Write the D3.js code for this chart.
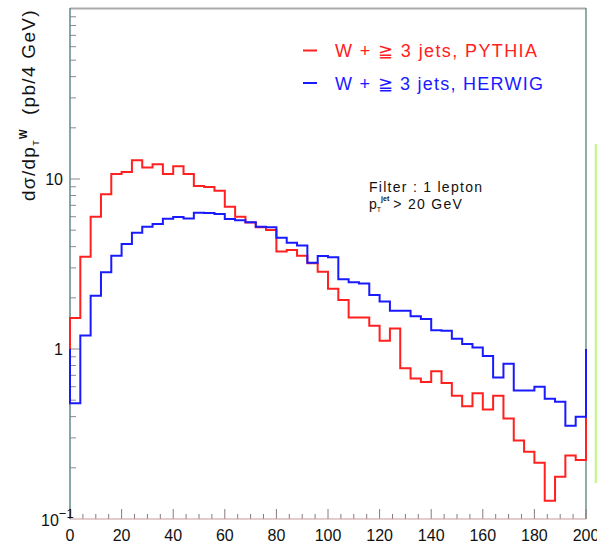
<!DOCTYPE html>
<html>
<head>
<meta charset="utf-8">
<script src="https://cdn.jsdelivr.net/npm/d3@7"></script>
<style>
  body { margin: 0; background: #fff; }
  text { font-family: "Liberation Sans", Arial, sans-serif; }
</style>
</head>
<body>
<div id="chart-area"></div>
<script>
// bin edges 0..200 step 4 GeV, 50 bins
var binWidth = 4;
var pythia = [1.52, 3.49, 6.0, 8.13, 10.7, 11.0, 12.9, 11.7, 12.2, 10.7,
              11.9, 10.7, 9.1, 8.97, 8.53, 6.87, 6.0, 5.55, 5.2, 5.01,
              3.74, 3.82, 3.54, 3.19, 2.85, 2.26, 1.94, 1.53, 1.53, 1.37,
              1.12, 1.32, 0.77, 0.67, 0.64, 0.74, 0.63, 0.53, 0.46, 0.55,
              0.44, 0.53, 0.39, 0.29, 0.249, 0.214, 0.128, 0.177, 0.236, 0.222];
var herwig = [0.48, 1.2, 2.06, 2.83, 3.54, 4.15, 4.83, 5.24, 5.44, 5.84,
              5.97, 5.86, 6.34, 6.3, 6.22, 5.82, 5.71, 5.56, 5.24, 5.2,
              4.52, 4.22, 4.06, 3.22, 3.52, 3.46, 2.57, 2.47, 2.43, 2.08,
              1.90, 1.68, 1.68, 1.56, 1.50, 1.29, 1.28, 1.15, 1.07, 1.02,
              0.91, 0.68, 0.82, 0.57, 0.57, 0.60, 0.51, 0.49, 0.354, 0.40];
var xTicks = [0, 20, 40, 60, 80, 100, 120, 140, 160, 180, 200];
var seriesNames = ["W + \u2267 3 jets, PYTHIA", "W + \u2267 3 jets, HERWIG"];
var seriesColors = ["#ff2020", "#1a1aff"];

var svg = d3.select("#chart-area").append("svg")
    .attr("width", 597)
    .attr("height", 544);

var x = d3.scaleLinear().domain([0, 200]).range([70, 586]);
var y = d3.scaleLog().domain([0.1, 100]).range([519, 9]);

// frame
svg.append("line").attr("x1", 70).attr("x2", 586).attr("y1", 8.5).attr("y2", 8.5)
    .attr("stroke", "#aaaaaa").attr("stroke-width", 2);
svg.append("line").attr("x1", 586).attr("x2", 586).attr("y1", 8).attr("y2", 519)
    .attr("stroke", "#6f8f8c").attr("stroke-width", 1.5);

// light green stray line on right edge
svg.append("line").attr("x1", 596).attr("x2", 596).attr("y1", 144).attr("y2", 483)
    .attr("stroke", "#c8f58a").attr("stroke-width", 2.5);

// y ticks (log, inward)
var yMinor = [];
[0.1, 1, 10].forEach(function(dec) {
    for (var k = 2; k <= 9; k++) yMinor.push(dec * k);
});
svg.selectAll(".ymin").data(yMinor).enter().append("line")
    .attr("x1", 70).attr("x2", 76)
    .attr("y1", function(d) { return y(d); })
    .attr("y2", function(d) { return y(d); })
    .attr("stroke", "#8a8a8a");
svg.selectAll(".ymaj").data([1, 10]).enter().append("line")
    .attr("x1", 70).attr("x2", 80)
    .attr("y1", function(d) { return y(d); })
    .attr("y2", function(d) { return y(d); })
    .attr("stroke", "#8a8a8a");

// x ticks (upward)
var xMinor = d3.range(0, 201, 5).filter(function(d) { return d % 20 != 0; });
svg.selectAll(".xmin").data(xMinor).enter().append("line")
    .attr("x1", function(d) { return x(d); })
    .attr("x2", function(d) { return x(d); })
    .attr("y1", 519).attr("y2", 514)
    .attr("stroke", "#8a7a7a");
svg.selectAll(".xmaj").data(xTicks).enter().append("line")
    .attr("x1", function(d) { return x(d); })
    .attr("x2", function(d) { return x(d); })
    .attr("y1", 519).attr("y2", 509)
    .attr("stroke", "#8a7a7a");

// axis lines
svg.append("line").attr("x1", 70).attr("x2", 586).attr("y1", 519).attr("y2", 519)
    .attr("stroke", "#c89a9a").attr("stroke-width", 1.2);
svg.append("line").attr("x1", 70).attr("x2", 70).attr("y1", 8).attr("y2", 519)
    .attr("stroke", "#5f8a86").attr("stroke-width", 1.5);

// x tick labels
svg.selectAll(".xlab").data(xTicks).enter().append("text")
    .attr("x", function(d) { return x(d); })
    .attr("y", 541)
    .attr("text-anchor", "middle")
    .attr("font-size", 16)
    .attr("fill", "#111")
    .text(function(d) { return d; });

// y tick labels
svg.append("text").attr("x", 63).attr("y", y(10) + 6).attr("text-anchor", "end")
    .attr("font-size", 16).attr("fill", "#111").text("10");
svg.append("text").attr("x", 63).attr("y", y(1) + 6).attr("text-anchor", "end")
    .attr("font-size", 16).attr("fill", "#111").text("1");
var tm = svg.append("text").attr("x", 41).attr("y", y(0.1) + 7)
    .attr("font-size", 16).attr("fill", "#111");
tm.append("tspan").text("10");
tm.append("tspan").attr("dy", -8).attr("font-size", 13).text("\u22121");

// y axis title
var yt = svg.append("text")
    .attr("transform", "translate(35,201) rotate(-90)")
    .attr("font-size", 19).attr("letter-spacing", 1.3).attr("fill", "#111");
yt.append("tspan").text("d\u03c3/dp");
yt.append("tspan").attr("dy", 4).attr("font-size", 9).text("T");
yt.append("tspan").attr("dy", -12).attr("font-size", 10).attr("font-weight", "bold").text("W");
yt.append("tspan").attr("dy", 8).attr("xml:space", "preserve").text("  (pb/4 GeV)");

// histograms, outline from baseline 1
var line = d3.line()
    .x(function(d) { return x(d[0]); })
    .y(function(d) { return y(d[1]); });

function histPoints(vals) {
    var pts = [[0, 1]];
    vals.forEach(function(v, i) {
        pts.push([i * binWidth, v]);
        pts.push([(i + 1) * binWidth, v]);
    });
    pts.push([vals.length * binWidth, 1]);
    return pts;
}

[pythia, herwig].forEach(function(vals, i) {
    svg.append("path")
        .attr("d", line(histPoints(vals)))
        .attr("fill", "none")
        .attr("stroke", seriesColors[i])
        .attr("stroke-width", 2);
});

// legend
var legendWidths = [202, 208];
seriesNames.forEach(function(name, i) {
    var ly = 50.5 + i * 32.5;
    svg.append("line").attr("x1", 303).attr("x2", 317).attr("y1", ly).attr("y2", ly)
        .attr("stroke", seriesColors[i]).attr("stroke-width", 2);
    svg.append("text").attr("x", 335).attr("y", ly + 6.5)
        .attr("font-size", 18).attr("fill", seriesColors[i])
        .attr("textLength", legendWidths[i])
        .attr("lengthAdjust", "spacing")
        .text(name);
});

// annotation
svg.append("text").attr("x", 369).attr("y", 192).attr("font-size", 14).attr("fill", "#111")
    .attr("textLength", 113).attr("lengthAdjust", "spacing")
    .text("Filter : 1 lepton");
var ann = svg.append("text").attr("x", 369).attr("y", 208.5).attr("font-size", 14).attr("fill", "#111");
ann.append("tspan").text("p");
ann.append("tspan").attr("dy", 3).attr("font-size", 7).text("T");
ann.append("tspan").attr("dy", -11).attr("font-size", 7).attr("font-weight", "bold").text("jet");
ann.append("tspan").attr("dy", 8).attr("dx", 4).attr("letter-spacing", 1.3).text("> 20 GeV");
</script>
</body>
</html>
